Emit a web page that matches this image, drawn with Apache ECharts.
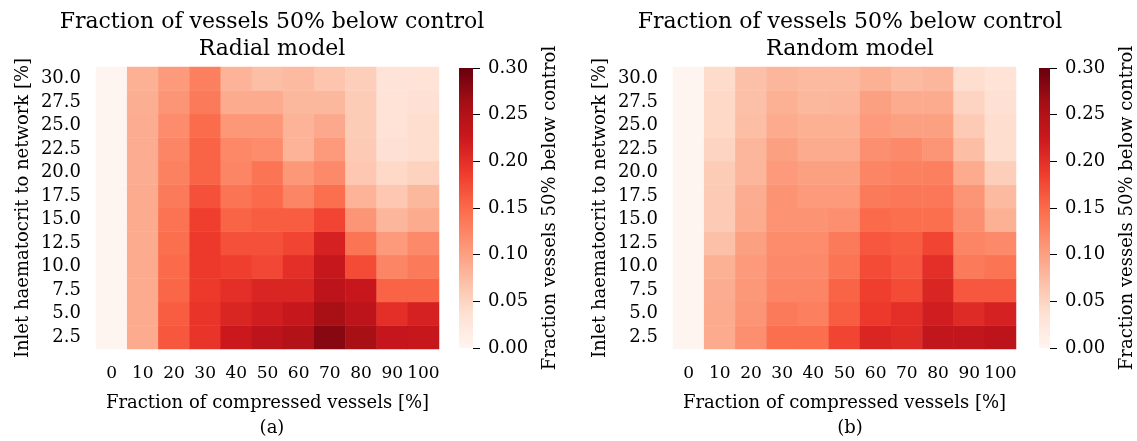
<!DOCTYPE html>
<html>
<head>
<meta charset="utf-8">
<script src="https://cdn.jsdelivr.net/npm/echarts@6/dist/echarts.min.js"></script>
<style>
  html, body { margin: 0; padding: 0; background: #fff; }
  #main { width: 1137px; height: 441px; }
</style>
</head>
<body>
<div id="main"></div>
<script>
// axes
var fracCompressed = ['0', '10', '20', '30', '40', '50', '60', '70', '80', '90', '100'];
var haematocrit = ['2.5', '5.0', '7.5', '10.0', '12.5', '15.0', '17.5', '20.0', '22.5', '25.0', '27.5', '30.0'];

// rows listed from haematocrit 2.5 (bottom) to 30.0 (top), columns 0..100
var radial = [
  [0, 0.090, 0.165, 0.195, 0.225, 0.240, 0.250, 0.280, 0.260, 0.232, 0.230],
  [0, 0.090, 0.160, 0.195, 0.210, 0.220, 0.230, 0.260, 0.240, 0.200, 0.215],
  [0, 0.090, 0.152, 0.190, 0.200, 0.210, 0.210, 0.240, 0.228, 0.155, 0.155],
  [0, 0.090, 0.150, 0.190, 0.185, 0.178, 0.200, 0.230, 0.175, 0.125, 0.135],
  [0, 0.090, 0.145, 0.190, 0.170, 0.170, 0.180, 0.215, 0.140, 0.105, 0.120],
  [0, 0.090, 0.142, 0.185, 0.155, 0.160, 0.160, 0.180, 0.110, 0.080, 0.090],
  [0, 0.090, 0.135, 0.170, 0.140, 0.150, 0.125, 0.145, 0.082, 0.063, 0.078],
  [0, 0.088, 0.128, 0.155, 0.125, 0.140, 0.108, 0.120, 0.063, 0.045, 0.052],
  [0, 0.088, 0.125, 0.155, 0.122, 0.118, 0.082, 0.105, 0.060, 0.035, 0.040],
  [0, 0.088, 0.118, 0.148, 0.108, 0.108, 0.082, 0.092, 0.058, 0.033, 0.040],
  [0, 0.087, 0.110, 0.135, 0.090, 0.090, 0.078, 0.078, 0.058, 0.033, 0.035],
  [0, 0.085, 0.105, 0.130, 0.082, 0.072, 0.075, 0.065, 0.055, 0.030, 0.032]
];

var random = [
  [0, 0.090, 0.115, 0.145, 0.145, 0.180, 0.210, 0.205, 0.235, 0.235, 0.240],
  [0, 0.090, 0.110, 0.135, 0.130, 0.160, 0.190, 0.200, 0.220, 0.205, 0.215],
  [0, 0.088, 0.108, 0.125, 0.125, 0.155, 0.185, 0.175, 0.210, 0.165, 0.165],
  [0, 0.085, 0.105, 0.120, 0.120, 0.140, 0.175, 0.165, 0.200, 0.135, 0.140],
  [0, 0.070, 0.100, 0.118, 0.118, 0.135, 0.165, 0.160, 0.180, 0.125, 0.120],
  [0, 0.060, 0.090, 0.112, 0.112, 0.115, 0.150, 0.145, 0.145, 0.115, 0.085],
  [0, 0.060, 0.088, 0.112, 0.105, 0.105, 0.135, 0.138, 0.138, 0.110, 0.075],
  [0, 0.058, 0.080, 0.105, 0.100, 0.100, 0.125, 0.128, 0.130, 0.090, 0.055],
  [0, 0.050, 0.080, 0.100, 0.090, 0.090, 0.115, 0.120, 0.110, 0.072, 0.040],
  [0, 0.045, 0.072, 0.090, 0.085, 0.085, 0.105, 0.100, 0.100, 0.060, 0.040],
  [0, 0.045, 0.070, 0.085, 0.078, 0.080, 0.100, 0.090, 0.090, 0.050, 0.035],
  [0, 0.042, 0.070, 0.080, 0.075, 0.075, 0.085, 0.075, 0.080, 0.040, 0.032]
];

var colorbarTicks = [0, 0.05, 0.10, 0.15, 0.20, 0.25, 0.30];

// matplotlib "Reds"
var reds = ['#fff5f0', '#fee0d2', '#fcbba1', '#fc9272', '#fb6a4a', '#ef3b2c', '#cb181d', '#a50f15', '#67000d'];

var FONT = 'DejaVu Serif';

function toCells(rows) {
  var out = [];
  rows.forEach(function (row, j) {
    row.forEach(function (v, i) {
      out.push([i, j, v]);
    });
  });
  return out;
}

function gradient() {
  var stops = reds.map(function (c, i) {
    return { offset: 1 - i / (reds.length - 1), color: c };
  });
  return new echarts.graphic.LinearGradient(0, 0, 0, 1, stops);
}

var panels = [
  { left: 96, cbLeft: 459, center: 267, name: 'Radial model', tag: '(a)', data: radial },
  { left: 673, cbLeft: 1039, center: 845, name: 'Random model', tag: '(b)', data: random }
];

var grids = [], xAxes = [], yAxes = [], series = [], visualMaps = [], titles = [];

panels.forEach(function (p, k) {
  // heatmap
  grids.push({ left: p.left, top: 67, width: 343, height: 282 });
  xAxes.push({
    type: 'category', gridIndex: 2 * k, data: fracCompressed,
    name: 'Fraction of compressed vessels [%]', nameLocation: 'middle', nameGap: 45,
    nameTextStyle: { fontFamily: FONT, fontSize: 18, color: '#000' },
    axisLine: { show: false },
    axisTick: { alignWithLabel: true, length: 6, lineStyle: { color: '#000' } },
    axisLabel: { fontFamily: FONT, fontSize: 17, color: '#000', margin: 16, interval: 0 },
    splitLine: { show: false }
  });
  yAxes.push({
    type: 'category', gridIndex: 2 * k, data: haematocrit,
    name: 'Inlet haematocrit to network [%]', nameLocation: 'middle', nameGap: 64, nameRotate: 90,
    nameTextStyle: { fontFamily: FONT, fontSize: 18, color: '#000' },
    axisLine: { show: false },
    axisTick: { alignWithLabel: true, length: 6, lineStyle: { color: '#000' } },
    axisLabel: { fontFamily: FONT, fontSize: 18, color: '#000', margin: 15, interval: 0 },
    splitLine: { show: false }
  });
  series.push({
    type: 'heatmap', xAxisIndex: 2 * k, yAxisIndex: 2 * k,
    data: toCells(p.data), itemStyle: { borderWidth: 0 }, emphasis: { disabled: true }
  });
  visualMaps.push({
    show: false, type: 'continuous', min: 0, max: 0.3, seriesIndex: 2 * k,
    inRange: { color: reds }
  });

  // colorbar
  grids.push({ left: p.cbLeft, top: 68, width: 14, height: 280 });
  xAxes.push({
    type: 'category', gridIndex: 2 * k + 1, data: ['cb'], show: false
  });
  yAxes.push({
    type: 'value', gridIndex: 2 * k + 1, min: 0, max: 0.3, interval: 0.05, position: 'right',
    name: 'Fraction vessels 50% below control', nameLocation: 'middle', nameGap: 68, nameRotate: 90,
    nameTextStyle: { fontFamily: FONT, fontSize: 18, color: '#000' },
    axisLine: { show: false },
    axisTick: { show: true, length: 7, lineStyle: { color: '#000' } },
    axisLabel: {
      fontFamily: FONT, fontSize: 18, color: '#000', margin: 15,
      formatter: function (v) { return v.toFixed(2); }
    },
    splitLine: { show: false }
  });
  series.push({
    type: 'bar', xAxisIndex: 2 * k + 1, yAxisIndex: 2 * k + 1,
    data: [colorbarTicks[colorbarTicks.length - 1]], barWidth: '100%',
    itemStyle: { color: gradient() }, silent: true
  });

  titles.push({
    text: 'Fraction of vessels 50% below control\n' + p.name,
    left: p.center, top: 4, textAlign: 'center',
    textStyle: { fontFamily: FONT, fontSize: 22, fontWeight: 'normal', color: '#000', lineHeight: 27 }
  });
  titles.push({
    text: p.tag, left: p.center, top: 414, textAlign: 'center',
    textStyle: { fontFamily: FONT, fontSize: 18, fontWeight: 'normal', color: '#000' }
  });
});

var chart = echarts.init(document.getElementById('main'), null, { renderer: 'canvas' });
chart.setOption({
  backgroundColor: '#fff',
  animation: false,
  title: titles,
  grid: grids,
  xAxis: xAxes,
  yAxis: yAxes,
  visualMap: visualMaps,
  series: series
});
</script>
</body>
</html>
